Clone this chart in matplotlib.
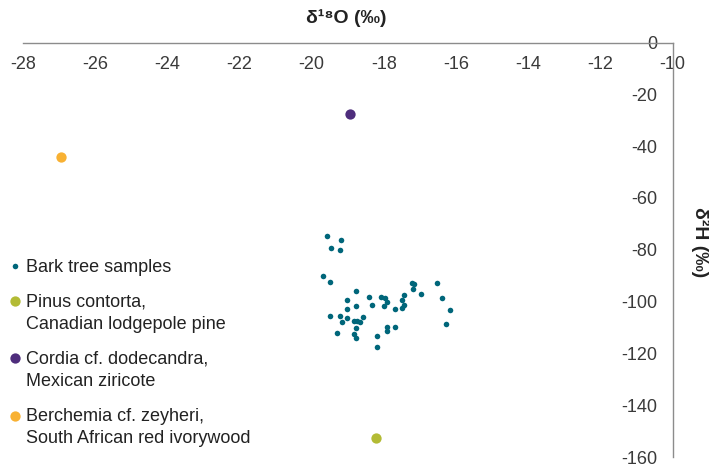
import matplotlib
matplotlib.use('Agg')
import matplotlib.pyplot as plt

plt.rcParams['font.family'] = ['Liberation Sans', 'DejaVu Sans']

# Bark tree samples (d18O, d2H)
bark_d18o = [-19.57, -19.19, -19.47, -19.22, -19.69, -19.50, -17.23, -17.16, -16.54, -17.19,
             -18.78, -16.96, -17.43, -18.41, -18.08, -17.97, -19.03, -16.38, -17.51, -17.91,
             -18.32, -17.43, -17.99, -18.76, -17.51, -19.01, -17.70, -16.17, -19.50, -19.22,
             -19.03, -18.57, -19.16, -18.83, -18.73, -18.66, -16.27, -18.78, -17.91, -17.70,
             -17.91, -19.29, -18.83, -18.78, -18.19, -18.19]
bark_d2h = [-74.8, -76.4, -79.2, -80.2, -90.2, -92.5, -93.0, -93.4, -92.9, -95.1,
            -96.1, -97.0, -97.5, -98.1, -98.3, -98.6, -99.3, -98.6, -99.3, -100.3,
            -101.2, -101.2, -101.8, -101.8, -102.3, -102.9, -102.9, -103.3, -105.7, -105.7,
            -106.3, -106.0, -107.9, -107.5, -107.5, -108.0, -108.7, -110.1, -109.7, -109.7,
            -111.2, -112.0, -112.7, -113.9, -113.4, -117.6]

# reference woods
pinus_d18o, pinus_d2h = [-18.22], [-152.5]
cordia_d18o, cordia_d2h = [-18.94], [-27.6]
berchemia_d18o, berchemia_d2h = [-26.95], [-44.2]

legend_labels = ['Bark tree samples',
                 'Pinus contorta,\nCanadian lodgepole pine',
                 'Cordia cf. dodecandra,\nMexican ziricote',
                 'Berchemia cf. zeyheri,\nSouth African red ivorywood']

teal = '#00667a'
green = '#b3bb35'
purple = '#4e2d7c'
orange = '#f8b133'

fig = plt.figure(figsize=(7.09, 4.66), dpi=100)
ax = fig.add_axes([23 / 709, 1 - 457 / 466, (672.5 - 23) / 709, (457 - 42.5) / 466])

ax.scatter(bark_d18o, bark_d2h, s=16, color=teal, linewidths=0, zorder=3)
ax.scatter(pinus_d18o, pinus_d2h, s=55, color=green, linewidths=0, zorder=3)
ax.scatter(cordia_d18o, cordia_d2h, s=55, color=purple, linewidths=0, zorder=3)
ax.scatter(berchemia_d18o, berchemia_d2h, s=55, color=orange, linewidths=0, zorder=3)

ax.set_xlim(-28, -10)
ax.set_ylim(-160, 0)
ax.set_xticks(range(-28, -9, 2))
ax.set_yticks(range(-160, 1, 20))

# axes cross at (x=-10, y=0), like the original
ax.spines['bottom'].set_position(('data', 0))
ax.spines['left'].set_position(('data', -10))
ax.spines['top'].set_visible(False)
ax.spines['right'].set_visible(False)
for sp in ['bottom', 'left']:
    ax.spines[sp].set_color('#8c8c8c')
    ax.spines[sp].set_linewidth(1.0)
ax.tick_params(axis='x', length=0, pad=10, labelsize=13, labelcolor='#3a3a3a')
ax.tick_params(axis='y', length=0, pad=11, labelsize=13, labelcolor='#3a3a3a')
ax.set_xticklabels([str(v) for v in range(-28, -9, 2)])
ax.set_yticklabels([str(v) for v in range(-160, 1, 20)])

fig.text(346 / 709, 1 - 18 / 466, 'δ¹⁸O (‰)', ha='center', va='center',
         fontsize=14, fontweight='bold', color='#222222')
fig.text(700 / 709, 1 - 242 / 466, 'δ²H (‰)', ha='center', va='center',
         rotation=270, fontsize=14, fontweight='bold', color='#222222')

# legend drawn by hand
leg_y = [266, 301, 358, 415.5]
leg_colors = [teal, green, purple, orange]
leg_sizes = [16, 55, 55, 55]
for yy, lab, c, s in zip(leg_y, legend_labels, leg_colors, leg_sizes):
    ax.scatter([15 / 709], [1 - yy / 466], s=s, color=c, linewidths=0,
               transform=fig.transFigure, clip_on=False)
    fig.text(26 / 709, 1 - (yy - 7.5) / 466, lab, ha='left', va='top',
             fontsize=13, color='#222222', linespacing=1.4)

fig.savefig('out.png', dpi=100)
